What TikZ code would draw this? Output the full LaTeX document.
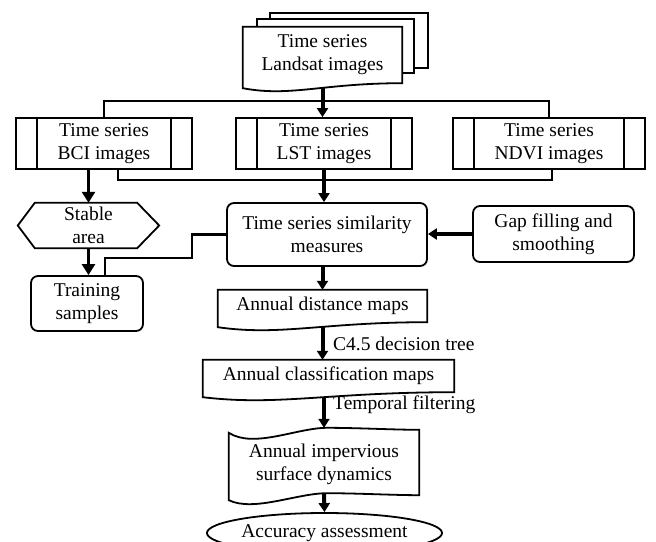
\documentclass[tikz,border=0pt]{standalone}
\usepackage{fontspec}
\setmainfont{Liberation Serif}
\usepackage{tikz}
\usetikzlibrary{shapes.geometric,arrows.meta,calc,backgrounds,positioning}

% outline of a document sheet (wavy lower edge) round a node
\newcommand{\docoutline}[1]{%
  \draw[frame,fill=white] (#1.north west) -- (#1.north east) -- (#1.south east)
    .. controls (#1.south) and ($(#1.south west)!0.3!(#1.south east)+(0,14)$)
    .. ($(#1.south west)+(0,5)$) -- cycle;}

\begin{document}
\begin{tikzpicture}[x=1pt,y=-1pt,
    every node/.style={font=\fontsize{19.5}{23}\selectfont,align=center,inner sep=0pt},
    frame/.style={line width=1.8pt},
    docbox/.style={minimum width=#1,minimum height=32pt},
    procbox/.style={draw,frame,minimum width=#1,minimum height=51pt,
      path picture={\draw[frame]
        ([xshift=21pt]path picture bounding box.north west) -- ([xshift=21pt]path picture bounding box.south west)
        ([xshift=-21pt]path picture bounding box.north east) -- ([xshift=-21pt]path picture bounding box.south east);}},
    roundbox/.style={draw,frame,rounded corners=7pt},
    link/.style={line width=2.2pt},
    bigarrow/.style={line width=4pt,-{Triangle[length=9pt,width=11pt]}},
    smallarrow/.style={line width=2.5pt,-{Triangle[length=11pt,width=13pt]}}]
    \useasboundingbox (0,0) rectangle (656,541);

    % Landsat stack
    \node[docbox=159pt,minimum height=56pt] (land) at (322.5,55) {Time series\\Landsat images};

    % image series
    \node[procbox=176pt] (bci) at (104,143.5) {Time series\\BCI images};
    \node[procbox=176pt] (lst) at (324,143.5) {Time series\\LST images};
    \node[procbox=192pt] (ndvi) at (549,143.5) {Time series\\NDVI images};

    % samples
    \node[minimum width=141pt,minimum height=45pt] (stable) at (88.5,225.5) {Stable\\area};
    \draw[frame] (stable.west) -- ($(stable.north west)+(17,0)$) -- ($(stable.north east)+(-22,0)$)
      -- (stable.east) -- ($(stable.south east)+(-22,0)$) -- ($(stable.south west)+(17,0)$) -- cycle;
    \node[roundbox,minimum width=112pt,minimum height=55pt] (train) at (87,303.5) {Training\\samples};

    % similarity
    \node[roundbox,minimum width=200pt,minimum height=63pt] (sim) at (327,234.5) {Time series similarity\\measures};
    \node[roundbox,minimum width=161pt,minimum height=56pt] (gap) at (553.5,234) {Gap filling and\\smoothing};

    % maps
    \node[docbox=209pt] (dist) at (322.5,306) {Annual distance maps};
    \node[docbox=251pt] (cls) at (328.5,376) {Annual classification maps};
    \node[minimum width=190pt,minimum height=62pt] (dyn) at (324,464) {Annual impervious\\surface dynamics};
    \node[draw,frame,ellipse,minimum width=225pt,minimum height=40pt] (acc) at (324.5,533) {Accuracy assessment};

    % Labels
    \node[anchor=west] (c45) at (333,344) {C4.5 decision tree};
    \node[anchor=west] (tf) at (333,405) {Temporal filtering};

    \begin{pgfonlayer}{background}
      % sheets behind the Landsat document
      \draw[frame,fill=white] ($(land.north west)+(27,-14)$) rectangle ($(land.south east)+(26,-15)$);
      \draw[frame,fill=white] ($(land.north west)+(14,-8)$) rectangle ($(land.south east)+(12,-10)$);
      \docoutline{land}
      \docoutline{dist}
      \docoutline{cls}
      % tape
      \draw[frame,fill=white] (dyn.north west) .. controls +(25,16) and +(-30,0) .. ($(dyn.north)+(3,-5)$)
        .. controls +(30,0) and +(-25,0) .. ($(dyn.north east)+(0,-3)$) -- (dyn.south east)
        .. controls +(-25,0) and +(30,0) .. ($(dyn.south)+(3,-2)$)
        .. controls +(-30,0) and +(25,12) .. ($(dyn.south west)+(0,5)$) -- cycle;
    \end{pgfonlayer}

    % connectors
    \draw[link] (bci.north) -- ++(0,-16) -| (ndvi.north);
    \draw[bigarrow] ($(land.south)+(0,5)$) -- (land.south |- lst.north);
    \draw[link] ($(bci.south)+(14,0)$) -- ++(0,10) -| ($(ndvi.south)+(3,0)$);
    \draw[bigarrow] (lst.south) -- (lst.south |- sim.north);
    \draw[smallarrow] (bci.south -| stable.north) -- (stable.north);
    \draw[smallarrow] (stable.south) -- (stable.south |- train.north);
    \draw[link] ($(train.north)+(18,0)$) -- ++(0,-17) -| ($(sim.west)+(-34,0)$) -- (sim.west);
    \draw[bigarrow] (gap.west) -- (gap.west -| sim.east);
    \draw[bigarrow] (sim.south -| dist.north) -- (dist.north);
    \draw[bigarrow] ($(dist.south)+(0,5)$) -- (dist.south |- cls.north);
    \draw[bigarrow] ($(cls.south -| dyn.north)+(0,5)$) -- ($(dyn.north)+(0,-5)$);
    \draw[bigarrow] ($(dyn.south)+(0,-2)$) -- (acc.north);
\end{tikzpicture}
\end{document}
